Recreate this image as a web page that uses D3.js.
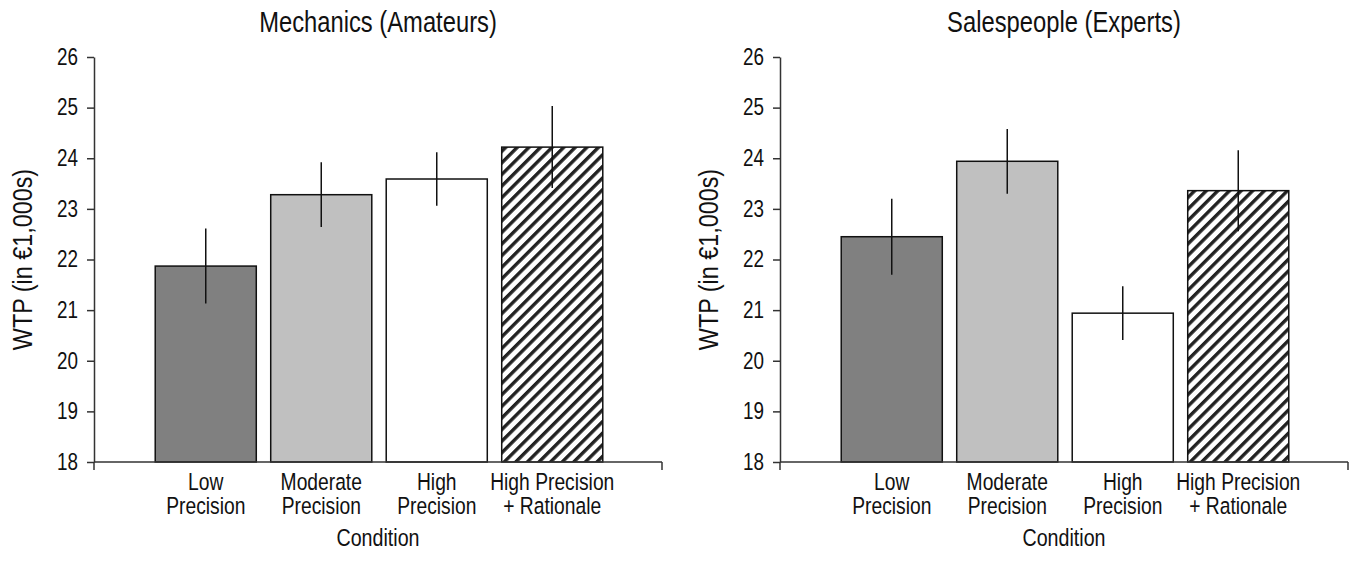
<!DOCTYPE html>
<html>
<head>
<meta charset="utf-8">
<script src="https://cdn.jsdelivr.net/npm/d3@7"></script>
<style>
  body { margin: 0; background: #fff; }
  svg text { font-family: "Liberation Sans", Arial, sans-serif; fill: #111; }
</style>
</head>
<body>
<svg id="chart"></svg>
<script>
var width = 1354;
var height = 561;

// data
var categories = ['Low Precision', 'Moderate Precision', 'High Precision', 'High Precision + Rationale'];
var tickLines = [['Low', 'Precision'], ['Moderate', 'Precision'], ['High', 'Precision'], ['High Precision', '+ Rationale']];
var mechanicsMeans = [21.87, 23.28, 23.59, 24.22];
var mechanicsErr = [0.74, 0.64, 0.53, 0.81];
var salesMeans = [22.45, 23.94, 20.94, 23.36];
var salesErr = [0.75, 0.64, 0.53, 0.80];
var titles = ['Mechanics (Amateurs)', 'Salespeople (Experts)'];
var yTicks = [18, 19, 20, 21, 22, 23, 24, 25, 26];
var fills = ['#808080', '#c0c0c0', '#ffffff', 'url(#hatch)'];

// the figure uses a condensed face; squeeze the sans horizontally
var squeeze = 0.82;

var svg = d3.select('#chart')
  .attr('width', width)
  .attr('height', height);

// diagonal hatch for the last condition
var defs = svg.append('defs');
var pat = defs.append('pattern')
  .attr('id', 'hatch')
  .attr('patternUnits', 'userSpaceOnUse')
  .attr('width', 8.2)
  .attr('height', 8.2)
  .attr('patternTransform', 'rotate(45)');
pat.append('rect').attr('width', 8.2).attr('height', 8.2).attr('fill', '#fff');
pat.append('rect').attr('x', 0).attr('width', 3.4).attr('height', 8.2).attr('fill', '#222');

var panels = [
  {title: titles[0], means: mechanicsMeans, err: mechanicsErr, left: 94},
  {title: titles[1], means: salesMeans, err: salesErr, left: 780}
];

var plotW = 568;
var plotTop = 57, plotBottom = 462;

var y = d3.scaleLinear().domain([18, 26]).range([plotBottom, plotTop]);

function label (g, tx, ty, size, rot) {
    return g.append('text')
      .attr('transform', 'translate(' + tx + ',' + ty + ')' + (rot ? ' rotate(' + rot + ')' : '') + ' scale(' + squeeze + ',1)')
      .attr('text-anchor', 'middle')
      .style('font-size', size + 'px');
}

function drawPanel (p) {
    var g = svg.append('g').attr('transform', 'translate(' + p.left + ',0)');

    var x = d3.scaleBand()
      .domain(categories)
      .range([54, plotW - 52])
      .paddingInner(0.125)
      .paddingOuter(0.0625);

    // bars
    g.selectAll('rect.bar')
      .data(categories)
      .enter().append('rect')
      .attr('class', 'bar')
      .attr('x', function (d) { return x(d); })
      .attr('width', x.bandwidth())
      .attr('y', function (d, i) { return y(p.means[i]); })
      .attr('height', function (d, i) { return y(18) - y(p.means[i]); })
      .attr('fill', function (d, i) { return fills[i]; })
      .attr('stroke', '#111')
      .attr('stroke-width', 1.5);

    // error bars, no caps
    g.selectAll('line.err')
      .data(categories)
      .enter().append('line')
      .attr('class', 'err')
      .attr('x1', function (d) { return x(d) + x.bandwidth() / 2; })
      .attr('x2', function (d) { return x(d) + x.bandwidth() / 2; })
      .attr('y1', function (d, i) { return y(p.means[i] + p.err[i]); })
      .attr('y2', function (d, i) { return y(p.means[i] - p.err[i]); })
      .attr('stroke', '#111')
      .attr('stroke-width', 1.5);

    // y axis
    var yAxis = g.append('g')
      .call(d3.axisLeft(y).tickValues(yTicks).tickSize(7).tickSizeOuter(0).tickPadding(9));
    yAxis.select('.domain').attr('stroke', '#333').attr('stroke-width', 1.5);
    yAxis.selectAll('.tick line').attr('stroke', '#333').attr('stroke-width', 1.5);
    yAxis.selectAll('.tick text')
      .attr('x', -16 / squeeze)
      .attr('transform', 'scale(' + squeeze + ',1)')
      .style('font-size', '23px')
      .style('font-family', '"Liberation Sans", Arial, sans-serif')
      .attr('fill', '#111');
    // axis continues a little below the baseline
    g.append('line')
      .attr('x1', 0).attr('x2', 0)
      .attr('y1', y(18)).attr('y2', y(18) + 8)
      .attr('stroke', '#333').attr('stroke-width', 1.5);

    // x axis baseline with end ticks
    g.append('line')
      .attr('x1', 0).attr('x2', plotW)
      .attr('y1', y(18)).attr('y2', y(18))
      .attr('stroke', '#333').attr('stroke-width', 1.5);
    g.append('line')
      .attr('x1', plotW).attr('x2', plotW)
      .attr('y1', y(18)).attr('y2', y(18) + 8)
      .attr('stroke', '#333').attr('stroke-width', 1.5);

    // category labels, two lines each
    categories.forEach(function (d, i) {
        var t = label(g, x(d) + x.bandwidth() / 2, plotBottom + 28, 23.5);
        tickLines[i].forEach(function (s, k) {
            t.append('tspan')
              .attr('x', 0)
              .attr('y', k * 24)
              .text(s);
        });
    });

    // x title
    label(g, plotW / 2, plotBottom + 84, 24).text('Condition');

    // y title
    label(g, -62, (plotTop + plotBottom) / 2, 28.5, -90).text('WTP (in €1,000s)');

    // panel title
    label(g, plotW / 2, 32, 29).text(p.title);
}

panels.forEach(drawPanel);
</script>
</body>
</html>
